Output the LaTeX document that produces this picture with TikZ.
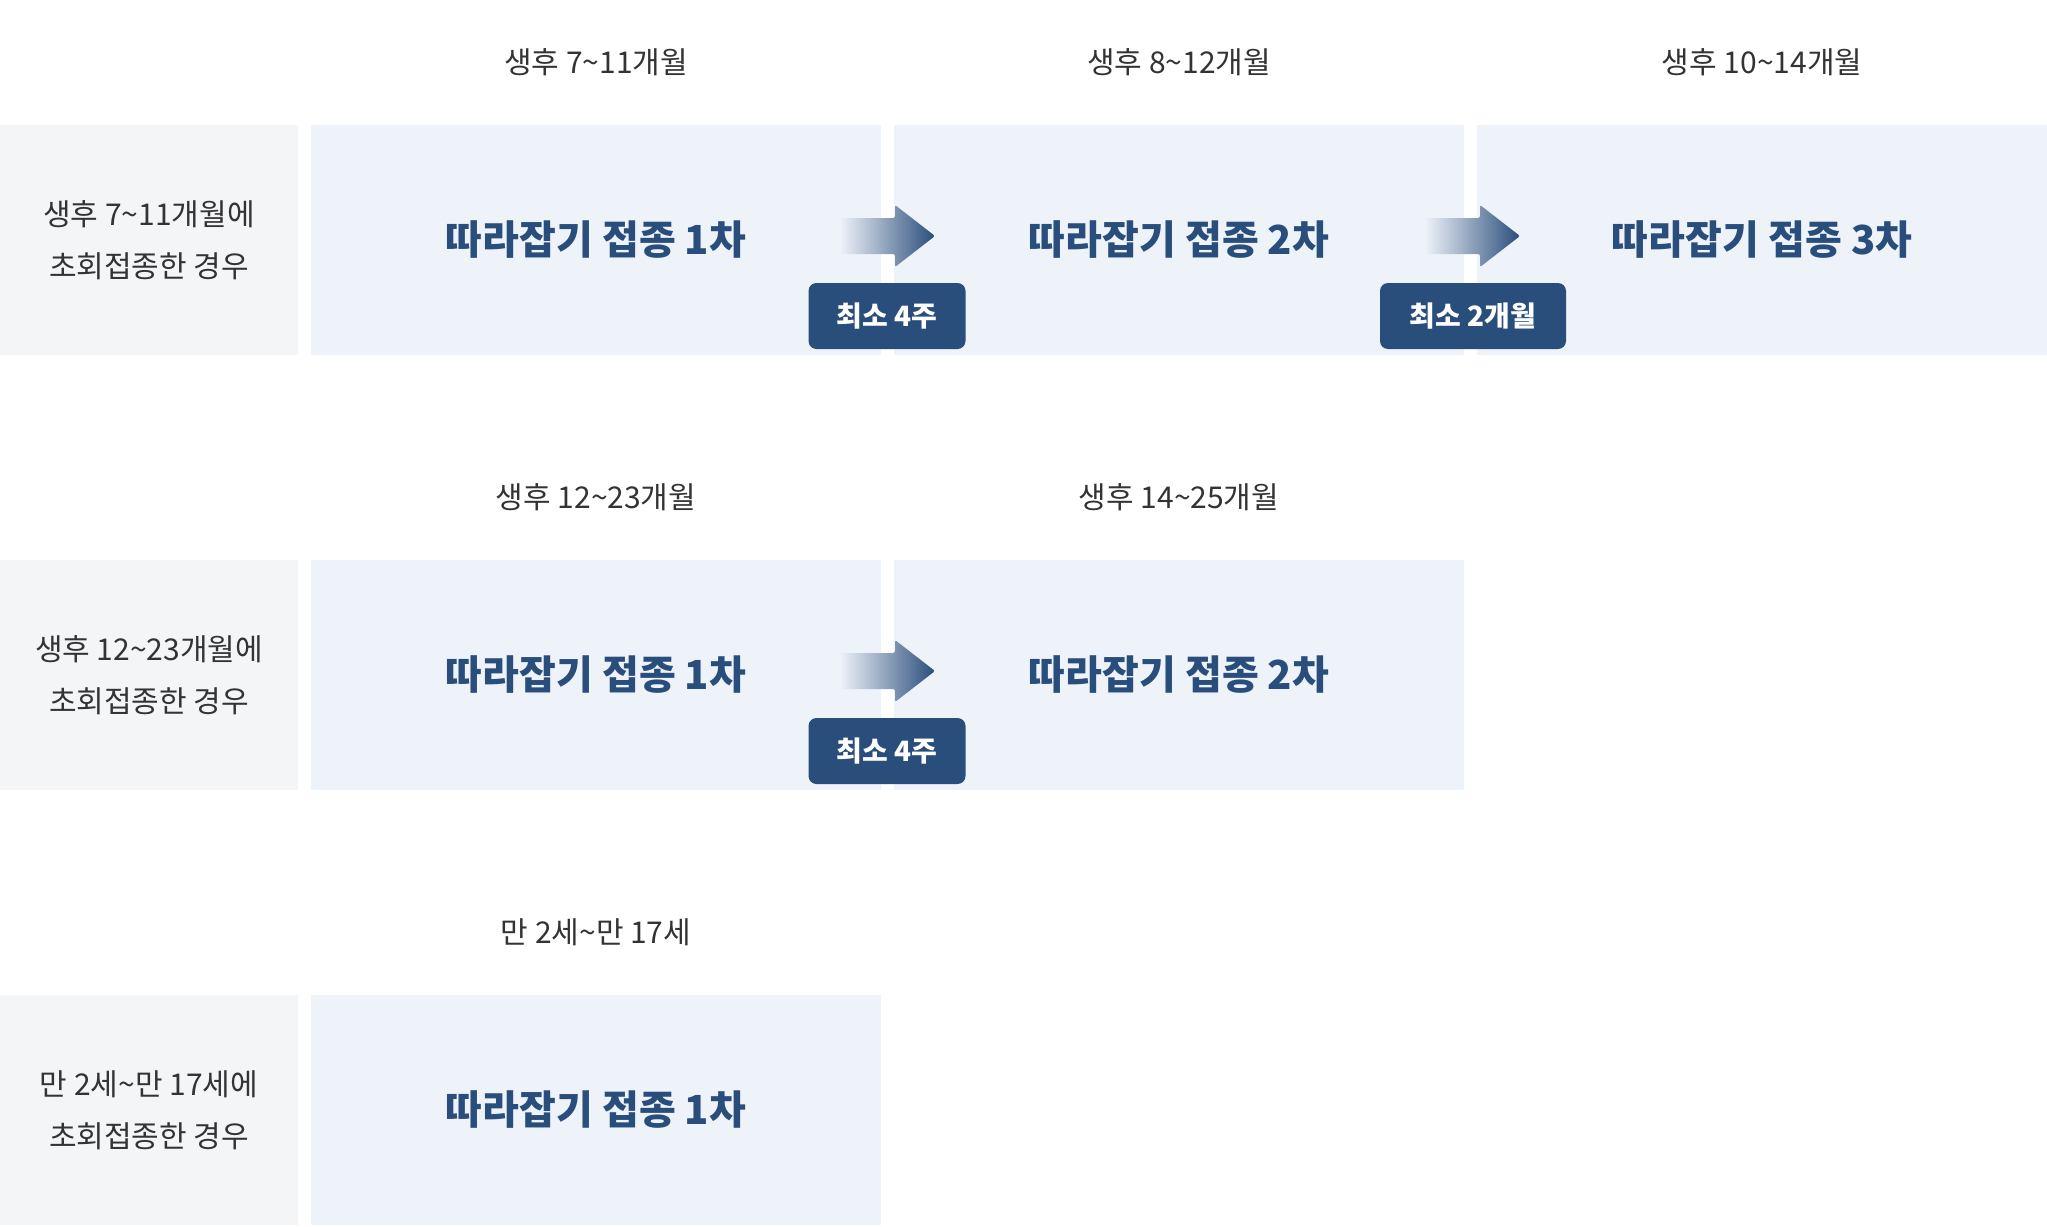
\documentclass[tikz,border=0pt]{standalone}
\usepackage{fontspec}
\setmainfont{Noto Sans CJK KR}
\definecolor{lab}{HTML}{F4F5F7}
\definecolor{col}{HTML}{EEF2F9}
\definecolor{dk}{HTML}{2A4E7B}
\definecolor{tx}{HTML}{333333}
\newcommand\tl{{\textasciitilde}}
\begin{document}
\begin{tikzpicture}[x=1pt,y=-1pt,
 lbl/.style={fill=lab,minimum width=298pt,minimum height=230pt,inner sep=0,align=center,text=tx,font=\fontsize{30}{52}\selectfont},
 box/.style={fill=col,minimum width=570pt,minimum height=230pt,inner sep=0,text=dk,font=\fontsize{40}{48}\selectfont\bfseries},
 hd/.style={text=tx,font=\fontsize{30}{36}\selectfont,inner sep=0},
 badge/.style={fill=dk,rounded corners=8pt,text=white,minimum height=66pt,inner xsep=0,font=\fontsize{28}{32}\selectfont\bfseries}]
\useasboundingbox (0,0) rectangle (2047,1226);
\newcommand\arr[2]{\shade[left color=col,right color=dk,rounded corners=2pt] (#1,#2-18) -- (#1+55,#2-18) -- (#1+55,#2-31) -- (#1+95,#2) -- (#1+55,#2+31) -- (#1+55,#2+18) -- (#1,#2+18) -- cycle;}
% row 1
\node[lbl] (l1) at (149,240) {생후 7\tl{}11개월에\\초회접종한 경우};
\node[box] (a1) at (596,240) {따라잡기 접종 1차};
\node[box] (a2) at (1179,240) {따라잡기 접종 2차};
\node[box] (a3) at (1762,240) {따라잡기 접종 3차};
\node[hd] (h11) at (596,62) {생후 7\tl{}11개월};
\node[hd] (h12) at (1179,62) {생후 8\tl{}12개월};
\node[hd] (h13) at (1762,62) {생후 10\tl{}14개월};
\arr{840}{236}\arr{1425}{236}
\node[badge,minimum width=157pt] (b11) at (887,316) {최소 4주};
\node[badge,minimum width=186pt] (b12) at (1473,316) {최소 2개월};
% row 2
\node[lbl] (l2) at (149,675) {생후 12\tl{}23개월에\\초회접종한 경우};
\node[box] (c1) at (596,675) {따라잡기 접종 1차};
\node[box] (c2) at (1179,675) {따라잡기 접종 2차};
\node[hd] (h21) at (596,497) {생후 12\tl{}23개월};
\node[hd] (h22) at (1179,497) {생후 14\tl{}25개월};
\arr{840}{671}
\node[badge,minimum width=157pt] (b21) at (887,751) {최소 4주};
% row 3
\node[lbl] (l3) at (149,1110) {만 2세\tl{}만 17세에\\초회접종한 경우};
\node[box] (d1) at (596,1110) {따라잡기 접종 1차};
\node[hd] (h31) at (596,932) {만 2세\tl{}만 17세};
\end{tikzpicture}
\end{document}
